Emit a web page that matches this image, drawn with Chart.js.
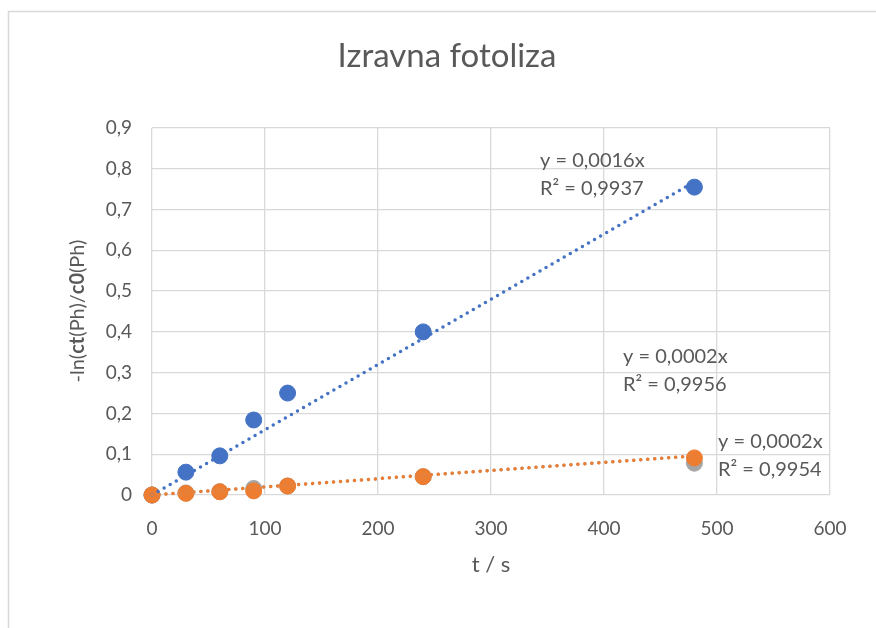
<!DOCTYPE html>
<html>
<head>
<meta charset="utf-8">
<script src="https://cdn.jsdelivr.net/npm/chart.js@4/dist/chart.umd.min.js"></script>
<style>
  html, body { margin: 0; padding: 0; background: #ffffff; }
  #wrap { width: 876px; height: 628px; }
</style>
</head>
<body>
<div id="wrap"><canvas id="grafikon" width="876" height="628"></canvas></div>
<script>
// vrijeme ozračivanja (s)
const vrijeme = [0, 30, 60, 90, 120, 240, 480];

// -ln(ct/c0) za tri serije
const serijaPlava = [0, 0.056, 0.096, 0.184, 0.25, 0.40, 0.755];
const serijaSiva = [0, 0.005, 0.008, 0.016, 0.022, 0.045, 0.078];
const serijaNarancasta = [0, 0.004, 0.008, 0.010, 0.022, 0.045, 0.091];

// nagibi pravaca (y = kx) i tekst jednadžbi
const nagibi = [0.0016, 0.0002, 0.0002];
const jednadzbe = [
    ["y = 0,0016x", "R² = 0,9937"],
    ["y = 0,0002x", "R² = 0,9956"],
    ["y = 0,0002x", "R² = 0,9954"]
];

const xTicks = [0, 100, 200, 300, 400, 500, 600];
const yTicks = [0, 0.1, 0.2, 0.3, 0.4, 0.5, 0.6, 0.7, 0.8, 0.9];

const PLAVA = "#4472C4";
const SIVA = "#A5A5A5";
const NARANCASTA = "#ED7D31";
const TEKST = "#595959";
const FONT = "Lato, 'Open Sans', sans-serif";

function tocke(vrijednosti) {
    return vrijeme.map((t, i) => ({ x: t, y: vrijednosti[i] }));
}

function pravac(k) {
    const tMax = vrijeme[vrijeme.length - 1];
    return [{ x: 0, y: 0 }, { x: tMax, y: k * tMax }];
}

function serija(label, vrijednosti, boja, red) {
    return {
        label: label,
        data: tocke(vrijednosti),
        backgroundColor: boja,
        borderColor: boja,
        pointRadius: 8,
        pointHoverRadius: 8,
        showLine: false,
        clip: false,
        order: red
    };
}

function trend(k, boja, red) {
    return {
        data: pravac(k),
        showLine: true,
        borderColor: boja,
        borderWidth: 3.5,
        borderDash: [0, 7],
        borderCapStyle: "round",
        pointRadius: 0,
        fill: false,
        clip: false,
        order: red
    };
}

// natpisi: naslov, nazivi osi, jednadžbe pravaca, okvir
const natpisi = {
    id: "natpisi",
    afterDraw(chart) {
        const ctx = chart.ctx;
        ctx.save();

        ctx.strokeStyle = "#d9d9d9";
        ctx.lineWidth = 1.5;
        ctx.strokeRect(8.5, 11.5, 900, 700);

        ctx.fillStyle = TEKST;
        ctx.textBaseline = "middle";

        ctx.textAlign = "center";
        ctx.font = "33px " + FONT;
        ctx.fillText("Izravna fotoliza", 447, 56);

        ctx.font = "22px " + FONT;
        ctx.fillText("t / s", 491, 565);

        // naziv y osi s podebljanim dijelovima
        const dijelovi = [
            ["-ln(", false], ["ct", true], ["(Ph)/", false], ["c0", true], ["(Ph)", false]
        ];
        const fontNorm = "20px " + FONT;
        const fontBold = "bold 20px " + FONT;
        let ukupno = 0;
        dijelovi.forEach(d => {
            ctx.font = d[1] ? fontBold : fontNorm;
            ukupno += ctx.measureText(d[0]).width;
        });
        ctx.translate(78, 311);
        ctx.rotate(-Math.PI / 2);
        ctx.textAlign = "left";
        let x = -ukupno / 2;
        dijelovi.forEach(d => {
            ctx.font = d[1] ? fontBold : fontNorm;
            ctx.fillText(d[0], x, 0);
            x += ctx.measureText(d[0]).width;
        });
        ctx.setTransform(1, 0, 0, 1, 0, 0);

        // jednadžbe pravaca
        const polozaji = [[540, 161], [623, 357], [718, 442]];
        ctx.font = "20px " + FONT;
        ctx.textAlign = "left";
        jednadzbe.forEach((j, i) => {
            ctx.fillText(j[0], polozaji[i][0], polozaji[i][1]);
            ctx.fillText(j[1], polozaji[i][0], polozaji[i][1] + 28);
        });

        ctx.restore();
    }
};

const ctxGraf = document.getElementById("grafikon").getContext("2d");

new Chart(ctxGraf, {
    type: "scatter",
    data: {
        datasets: [
            trend(nagibi[0], PLAVA, 0),
            trend(nagibi[2], NARANCASTA, -1),
            trend(nagibi[1], SIVA, 0),
            serija("Plava", serijaPlava, PLAVA, 3),
            serija("Siva", serijaSiva, SIVA, 2),
            serija("Narančasta", serijaNarancasta, NARANCASTA, 1)
        ]
    },
    options: {
        responsive: false,
        animation: false,
        events: [],
        layout: {
            padding: { left: 0, top: 128, right: 46, bottom: 0 }
        },
        plugins: {
            legend: { display: false },
            title: { display: false },
            tooltip: { enabled: false }
        },
        scales: {
            x: {
                type: "linear",
                min: 0,
                max: 600,
                afterFit(scale) { scale.height = 133; },
                afterBuildTicks(scale) { scale.ticks = xTicks.map(v => ({ value: v })); },
                grid: { color: "#d9d9d9", lineWidth: 1.3, drawTicks: false },
                border: { display: false },
                ticks: {
                    color: TEKST,
                    font: { family: FONT, size: 19 },
                    padding: 22
                }
            },
            y: {
                type: "linear",
                min: 0,
                max: 0.9,
                afterFit(scale) { scale.width = 152; },
                afterBuildTicks(scale) { scale.ticks = yTicks.map(v => ({ value: v })); },
                grid: { color: "#d9d9d9", lineWidth: 1.3, drawTicks: false },
                border: { display: false },
                ticks: {
                    color: TEKST,
                    font: { family: FONT, size: 19 },
                    padding: 20,
                    callback: v => String(Math.round(v * 10) / 10).replace(".", ",")
                }
            }
        }
    },
    plugins: [natpisi]
});
</script>
</body>
</html>
